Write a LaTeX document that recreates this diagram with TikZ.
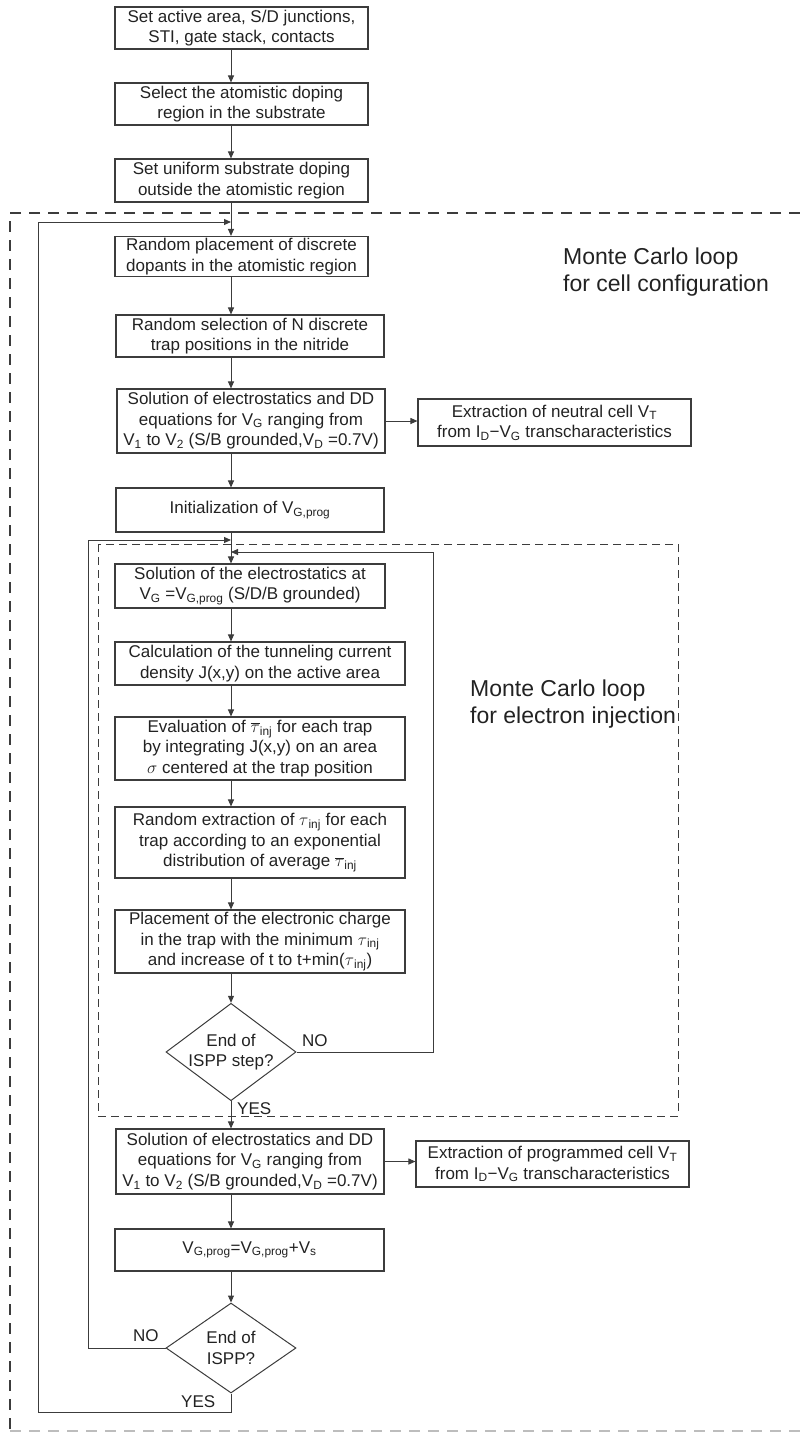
\documentclass[tikz,border=0pt]{standalone}
\usepackage{fontspec}
\setmainfont{Liberation Sans}
\usetikzlibrary{arrows.meta,positioning,shapes.geometric,calc}
\definecolor{ink}{HTML}{222222}
\definecolor{frame}{HTML}{3C3C3C}
\definecolor{faint}{HTML}{BDBDBD}

\begin{document}
\begin{tikzpicture}[x=1pt, y=-1pt,
  box/.style={draw=frame, line width=1.1pt, align=center, inner sep=0pt,
              font=\fontsize{17}{20.5}\selectfont, text=ink},
  dec/.style={draw=frame, line width=1pt, diamond, inner sep=-6pt,
              minimum width=130pt, minimum height=90pt, align=center,
              font=\fontsize{17}{20.5}\selectfont, text=ink},
  arr/.style={-{Triangle[length=7pt,width=6pt]}, line width=1pt, frame},
  tag/.style={font=\fontsize{17}{20}\selectfont, text=ink, inner sep=0pt},
  big/.style={font=\fontsize{23}{27}\selectfont, text=ink, align=left, inner sep=0pt},
  cellloop/.style={line width=1.2pt, frame, dash pattern=on 11pt off 8pt},
  injloop/.style={line width=1pt, frame, dash pattern=on 8pt off 5pt}
]
  \useasboundingbox (0,0) rectangle (800,1433);
  \coordinate (ax) at (231,0);

  % loop frames
  \draw[cellloop] (800,213) -- (10,213) -- (10,1431);
  \draw[cellloop, faint, line width=1.5pt] (10,1431) -- (800,1431);
  \draw[injloop] (98,544) rectangle (678,1116);

  \node[box, minimum width=253pt, minimum height=42pt] (set) at (241.5,28)
    {Set active area, S/D junctions,\\STI, gate stack, contacts};
  \node[box, minimum width=253pt, minimum height=42pt] (sel) at (241.5,104)
    {Select the atomistic doping\\region in the substrate};
  \node[box, minimum width=253pt, minimum height=43pt] (unif) at (241.5,180.5)
    {Set uniform substrate doping\\outside the atomistic region};
  \node[box, minimum width=253pt, minimum height=40pt] (rnddop) at (241.5,256.5)
    {Random placement of discrete\\dopants in the atomistic region};
  \node[box, minimum width=268pt, minimum height=42pt] (rndtrap) at (250,336)
    {Random selection of N discrete\\trap positions in the nitride};
  \node[box, minimum width=268pt, minimum height=64pt] (solve) at (251,421)
    {Solution of electrostatics and DD\\equations for V\textsubscript{G} ranging from\\V\textsubscript{1} to V\textsubscript{2} (S/B grounded,V\textsubscript{D} =0.7V)};
  \node[box, minimum width=273pt, minimum height=47pt] (ext1) at (554.5,422.5)
    {Extraction of neutral cell V\textsubscript{T}\\from I\textsubscript{D}−V\textsubscript{G} transcharacteristics};
  \node[box, minimum width=268pt, minimum height=44pt] (init) at (250,510)
    {Initialization of V\textsubscript{G,prog}};
  \node[box, minimum width=270pt, minimum height=44pt] (sol2) at (250,586)
    {Solution of the electrostatics at\\V\textsubscript{G} =V\textsubscript{G,prog} (S/D/B grounded)};
  \node[box, minimum width=290pt, minimum height=43pt] (tun) at (260,663.5)
    {Calculation of the tunneling current\\density J(x,y) on the active area};
  \node[box, minimum width=290pt, minimum height=63pt] (eval) at (260,748.5)
    {Evaluation of \(\overline{\tau}\)\textsubscript{inj} for each trap\\by integrating J(x,y) on an area\\\(\sigma\) centered at the trap position};
  \node[box, minimum width=290pt, minimum height=71pt] (rext) at (260,842.5)
    {Random extraction of \(\tau\)\textsubscript{inj} for each\\trap according to an exponential\\distribution of average \(\overline{\tau}\)\textsubscript{inj}};
  \node[box, minimum width=290pt, minimum height=63pt] (place) at (260,941.5)
    {Placement of the electronic charge\\in the trap with the minimum \(\tau\)\textsubscript{inj}\\and increase of t to t+min(\(\tau\)\textsubscript{inj})};
  \node[dec] (dec1) at (231,1052) {End of\\ISPP step?};
  \node[box, minimum width=268pt, minimum height=65pt] (sol3) at (250,1161.5)
    {Solution of electrostatics and DD\\equations for V\textsubscript{G} ranging from\\V\textsubscript{1} to V\textsubscript{2} (S/B grounded,V\textsubscript{D} =0.7V)};
  \node[box, minimum width=273pt, minimum height=46pt] (ext2) at (552.5,1164)
    {Extraction of programmed cell V\textsubscript{T}\\from I\textsubscript{D}−V\textsubscript{G} transcharacteristics};
  \node[box, minimum width=269pt, minimum height=42pt] (upd) at (249.5,1250)
    {V\textsubscript{G,prog}=V\textsubscript{G,prog}+V\textsubscript{s}};
  \node[dec] (dec2) at (231,1348) {End of\\ISPP?};

  \node[big, anchor=north west] (mccell) at (563,248) {Monte Carlo loop\\for cell configuration};
  \node[big, anchor=north west] (mcinj) at (470,680) {Monte Carlo loop\\for electron injection};

  \node[tag, anchor=south west] (no1) at (302,1047) {NO};
  \node[tag, anchor=south west] (yes1) at (237,1115) {YES};
  \node[tag, anchor=south west] (no2) at (133,1342) {NO};
  \node[tag, anchor=south west] (yes2) at (181,1408) {YES};

  \draw[arr] (set.south -| ax) -- (sel.north -| ax);
  \draw[arr] (sel.south -| ax) -- (unif.north -| ax);
  \draw[arr] (unif.south -| ax) -- (rnddop.north -| ax);
  \draw[arr] (rnddop.south -| ax) -- (rndtrap.north -| ax);
  \draw[arr] (rndtrap.south -| ax) -- (solve.north -| ax);
  \draw[arr] (solve.east) -- (solve.east -| ext1.west);
  \draw[arr] (solve.south -| ax) -- (init.north -| ax);
  \draw[arr] (init.south -| ax) -- (sol2.north -| ax);
  \draw[arr] (sol2.south -| ax) -- (tun.north -| ax);
  \draw[arr] (tun.south -| ax) -- (eval.north -| ax);
  \draw[arr] (eval.south -| ax) -- (rext.north -| ax);
  \draw[arr] (rext.south -| ax) -- (place.north -| ax);
  \draw[arr] (place.south -| ax) -- (dec1.north);
  \draw[arr] (dec1.south) -- (sol3.north -| ax);
  \draw[arr] (sol3.east) -- (sol3.east -| ext2.west);
  \draw[arr] (sol3.south -| ax) -- (upd.north -| ax);
  \draw[arr] (upd.south -| ax) -- (dec2.north);

  % loops back
  \coordinate (nr) at (433,552);
  \coordinate (nl) at (88,540);
  \coordinate (yb) at (38,1412);
  \coordinate (yt) at (38,222);
  \draw[arr] (dec1.east) -| (nr) -- (nr -| ax);
  \draw[arr] (dec2.west) -| (nl) -- (nl -| ax);
  \draw[arr] (dec2.south) |- (yb) -- (yt) -- (yt -| ax);
\end{tikzpicture}
\end{document}
